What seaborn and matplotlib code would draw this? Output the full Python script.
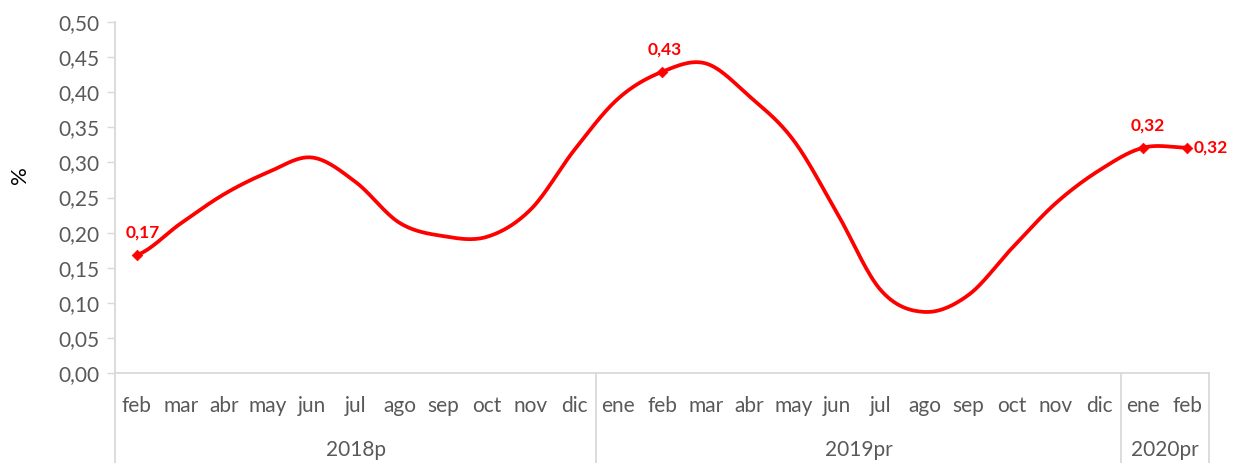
import matplotlib.pyplot as plt
import matplotlib.transforms as mtransforms
import numpy as np
import pandas as pd
import seaborn as sns

# monthly values (%)
months = ["feb", "mar", "abr", "may", "jun", "jul", "ago", "sep", "oct", "nov", "dic",
          "ene", "feb", "mar", "abr", "may", "jun", "jul", "ago", "sep", "oct", "nov", "dic",
          "ene", "feb"]
values = [0.168, 0.213, 0.255, 0.286, 0.307, 0.272, 0.214, 0.195, 0.194, 0.233, 0.318,
          0.391, 0.429, 0.441, 0.394, 0.332, 0.228, 0.118, 0.087, 0.111, 0.178, 0.242, 0.289,
          0.321, 0.321]
years = ["2018p", "2019pr", "2020pr"]
year_sizes = [11, 12, 2]
labelled = [0, 12, 23, 24]
yticks = [0.0, 0.05, 0.10, 0.15, 0.20, 0.25, 0.30, 0.35, 0.40, 0.45, 0.50]

RED = "#FF0000"
GREY = "#595959"
LINE = "#D9D9D9"


def smooth(y, n=30):
    # catmull-rom curve through the points, like the smoothed line in excel
    y = np.asarray(y, float)
    p = np.concatenate([[y[0]], y, [y[-1]]])
    xs, ys = [], []
    for i in range(len(y) - 1):
        p0, p1, p2, p3 = p[i], p[i + 1], p[i + 2], p[i + 3]
        t = np.linspace(0, 1, n, endpoint=False)
        yy = 0.5 * (2 * p1 + (-p0 + p2) * t + (2 * p0 - 5 * p1 + 4 * p2 - p3) * t ** 2
                    + (-p0 + 3 * p1 - 3 * p2 + p3) * t ** 3)
        xs.append(i + t)
        ys.append(yy)
    xs.append([len(y) - 1])
    ys.append([y[-1]])
    return np.concatenate(xs), np.concatenate(ys)


sns.set_style("white")
plt.rcParams["font.family"] = ["Lato", "DejaVu Sans"]

fig = plt.figure(figsize=(12.33, 4.63), dpi=100)
ax = fig.add_axes([115 / 1233, 90 / 463, 1094 / 1233, 351 / 463])

sx, sy = smooth(values)
curve = pd.DataFrame({"x": sx, "y": sy})
sns.lineplot(data=curve, x="x", y="y", ax=ax, color=RED, linewidth=2.7, sort=False)

pts = pd.DataFrame({"x": labelled, "y": [values[i] for i in labelled]})
sns.scatterplot(data=pts, x="x", y="y", ax=ax, color=RED, marker="D", s=30,
                edgecolor=RED, zorder=5)

offsets = {0: (4, 16), 12: (2, 16), 23: (3, 16), 24: (5, 0)}
for i in labelled:
    dx, dy = offsets[i]
    ha = "left" if i == 24 else "center"
    ax.annotate(f"{values[i]:.2f}".replace(".", ","), (i, values[i]),
                xytext=(dx, dy), textcoords="offset points", ha=ha, va="center",
                color=RED, fontsize=12.5, fontweight="bold")

ax.set_xlim(-0.5, len(values) - 0.5)
ax.set_ylim(0, 0.5)
ax.set_yticks(yticks)
ax.set_yticklabels([f"{v:.2f}".replace(".", ",") for v in yticks])
ax.set_xticks(range(len(months)))
ax.set_xticklabels(months)
ax.tick_params(axis="y", left=True, length=6, width=1, color=LINE, labelcolor=GREY,
               labelsize=15, pad=5)
ax.tick_params(axis="x", bottom=False, labelcolor=GREY, labelsize=15, pad=13)
ax.set_xlabel("")
ax.set_ylabel("")
fig.text(20 / 1233, 1 - 175 / 463, "%", rotation=90, ha="center", va="center",
         fontsize=16, color="black")

for s in ["top", "right"]:
    ax.spines[s].set_visible(False)
for s in ["left", "bottom"]:
    ax.spines[s].set_color(LINE)
    ax.spines[s].set_linewidth(1.3)

# two level category axis
trans = mtransforms.blended_transform_factory(ax.transData, ax.transAxes)
bottom = -90 / 351
edges = np.concatenate([[0], np.cumsum(year_sizes)]) - 0.5
for e in edges:
    ax.plot([e, e], [0, bottom], transform=trans, color=LINE, lw=1.3, clip_on=False)
for k, yr in enumerate(years):
    ax.text((edges[k] + edges[k + 1]) / 2, -77 / 351, yr, transform=trans,
            ha="center", va="center", color=GREY, fontsize=15)

fig.savefig("out.png", dpi=100)
